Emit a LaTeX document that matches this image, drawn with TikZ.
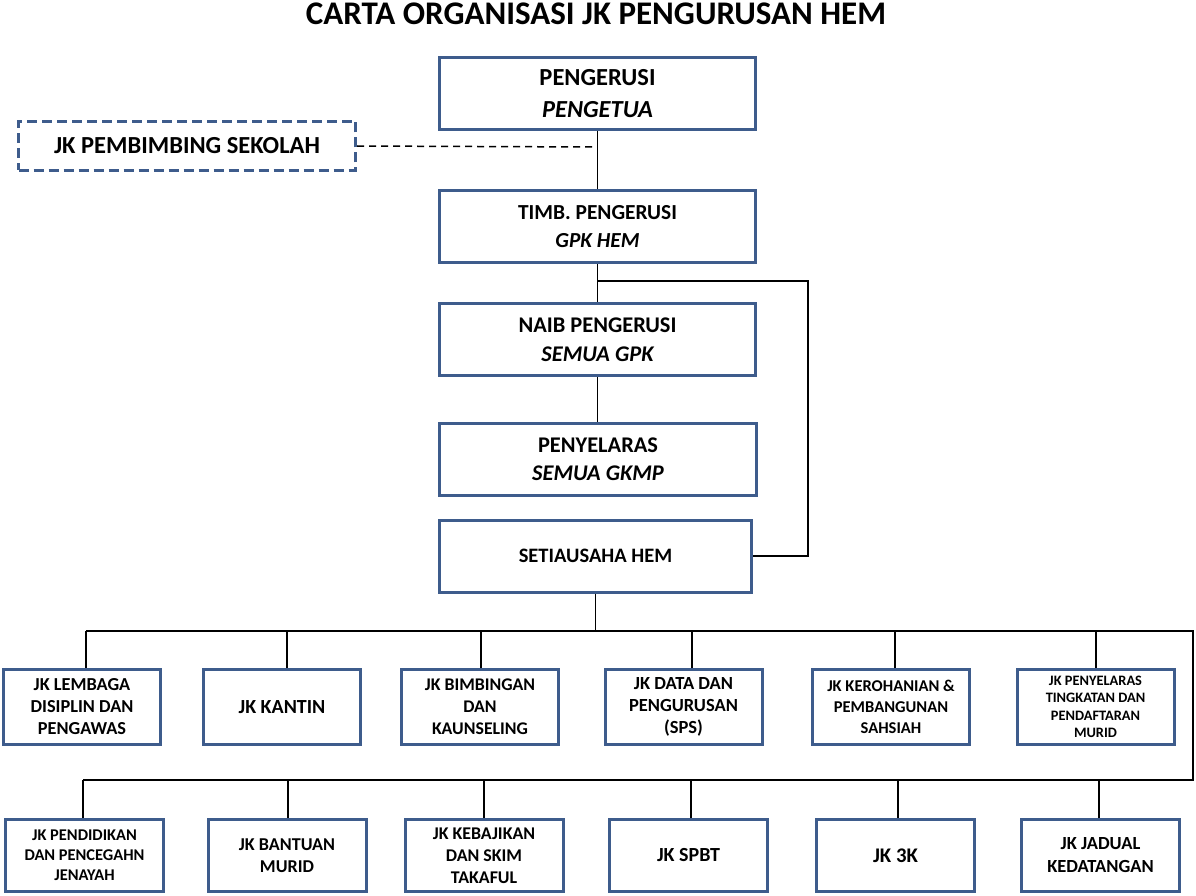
\documentclass[tikz,border=0pt]{standalone}
\usepackage{fontspec}
\setmainfont{Carlito}
\definecolor{boxblue}{RGB}{62,92,140}
\tikzset{
  box/.style={draw=boxblue, line width=3pt, rectangle, align=center, inner sep=1pt, font=\bfseries},
  topbox/.style={box, minimum width=316pt, minimum height=72pt},
  rowbox/.style={box, minimum width=157pt, minimum height=75pt},
  rowboxb/.style={box, minimum width=158pt, minimum height=72pt},
  dbox/.style={box, dashed, dash pattern=on 10pt off 5pt},
  conn/.style={draw=black, line width=1.5pt},
}
\newcommand{\fs}[2]{\bfseries\fontsize{#1}{#2}\selectfont}
\begin{document}
\begin{tikzpicture}[x=1pt,y=-1pt]
\useasboundingbox (0,0) rectangle (1196,896);
\node (title) at (596,14) {\fs{33}{38}CARTA ORGANISASI JK PENGURUSAN HEM};
\node[topbox, font=\fs{24.5}{32}] (P) at (597.5,93.5) {PENGERUSI\\\itshape PENGETUA};
\node[dbox, minimum width=337pt, minimum height=49pt, font=\fs{24.5}{28}] (S) at (187,146) {JK PEMBIMBING SEKOLAH};
\node[topbox, font=\fs{21.4}{28}] (T) at (597.5,226.5) {TIMB. PENGERUSI\\\itshape GPK HEM};
\node[topbox, font=\fs{22.4}{29}] (N) at (597.5,339.5) {NAIB PENGERUSI\\\itshape SEMUA GPK};
\node[topbox, minimum width=317pt, font=\fs{22.4}{28}] (Y) at (598,459.5) {PENYELARAS\\\itshape SEMUA GKMP};
\node[topbox, minimum width=312pt, font=\fs{20.5}{24}] (H) at (595.5,556) {SETIAUSAHA HEM};
% row 1
\node[rowbox, font=\fs{18.3}{22}] (a1) at (82,707) {JK LEMBAGA\\DISIPLIN DAN\\PENGAWAS};
\node[rowbox, font=\fs{20}{24}] (a2) at (282,707) {JK KANTIN};
\node[rowbox, font=\fs{17.8}{22}] (a3) at (480,707) {JK BIMBINGAN\\DAN\\KAUNSELING};
\node[rowbox, font=\fs{18.5}{22}] (a4) at (683.5,707) {JK DATA DAN\\PENGURUSAN\\(SPS)};
\node[rowbox, font=\fs{16.5}{21}] (a5) at (891,707) {JK KEROHANIAN \&\\PEMBANGUNAN\\SAHSIAH};
\node[rowbox, font=\fs{14.4}{17.4}] (a6) at (1095.5,707) {JK PENYELARAS\\TINGKATAN DAN\\PENDAFTARAN\\MURID};
% row 2
\node[rowboxb, font=\fs{16.4}{20}] (b1) at (84.5,855.5) {JK PENDIDIKAN\\DAN PENCEGAHN\\JENAYAH};
\node[rowboxb, font=\fs{18.1}{22}] (b2) at (287,855.5) {JK BANTUAN\\MURID};
\node[rowboxb, font=\fs{17.9}{22}] (b3) at (484,855.5) {JK KEBAJIKAN\\DAN SKIM\\TAKAFUL};
\node[rowboxb, font=\fs{20}{24}] (b4) at (688.5,855.5) {JK SPBT};
\node[rowboxb, font=\fs{20.8}{24}] (b5) at (895.5,855.5) {JK 3K};
\node[rowboxb, font=\fs{18.5}{23}] (b6) at (1100.5,855.5) {JK JADUAL\\KEDATANGAN};
% bus coordinates
\coordinate (bus1L) at (86,631);
\coordinate (bus1R) at (1193,631);
\coordinate (bus2L) at (83,780);
\coordinate (bus2R) at (1193,780);
\coordinate (loopA) at (597.5,281);
\coordinate (loopB) at (808,281);
\coordinate (loopC) at (808,556);
\coordinate (dashEnd) at (597.5,147);
% connectors
\draw[conn] (P.south) -- (T.north);
\draw[conn] (T.south) -- (N.north);
\draw[conn] (N.south) -- (N.south |- Y.north);
\draw[conn] (loopA) -- (loopB) -- (loopC) -- (H.east |- loopC);
\draw[conn, dashed, dash pattern=on 7pt off 5pt] (S.east) -- (dashEnd);
\draw[conn] (H.south) -- (H.south |- bus1L);
\draw[conn] (bus1L) -- (bus1R) -- (bus2R) -- (bus2L);
\draw[conn] ([xshift=4pt]a1.north) -- ([xshift=4pt]a1.north |- bus1L);
\draw[conn] ([xshift=5pt]a2.north) -- ([xshift=5pt]a2.north |- bus1L);
\draw[conn] ([xshift=1pt]a3.north) -- ([xshift=1pt]a3.north |- bus1L);
\draw[conn] ([xshift=8.5pt]a4.north) -- ([xshift=8.5pt]a4.north |- bus1L);
\draw[conn] ([xshift=4pt]a5.north) -- ([xshift=4pt]a5.north |- bus1L);
\draw[conn] ([xshift=0.5pt]a6.north) -- ([xshift=0.5pt]a6.north |- bus1L);
\draw[conn] ([xshift=-1.5pt]b1.north) -- ([xshift=-1.5pt]b1.north |- bus2L);
\draw[conn] ([xshift=1pt]b2.north) -- ([xshift=1pt]b2.north |- bus2L);
\draw[conn] (b3.north) -- (b3.north |- bus2L);
\draw[conn] ([xshift=2.5pt]b4.north) -- ([xshift=2.5pt]b4.north |- bus2L);
\draw[conn] ([xshift=2.5pt]b5.north) -- ([xshift=2.5pt]b5.north |- bus2L);
\draw[conn] ([xshift=-1.5pt]b6.north) -- ([xshift=-1.5pt]b6.north |- bus2L);
\end{tikzpicture}
\end{document}
